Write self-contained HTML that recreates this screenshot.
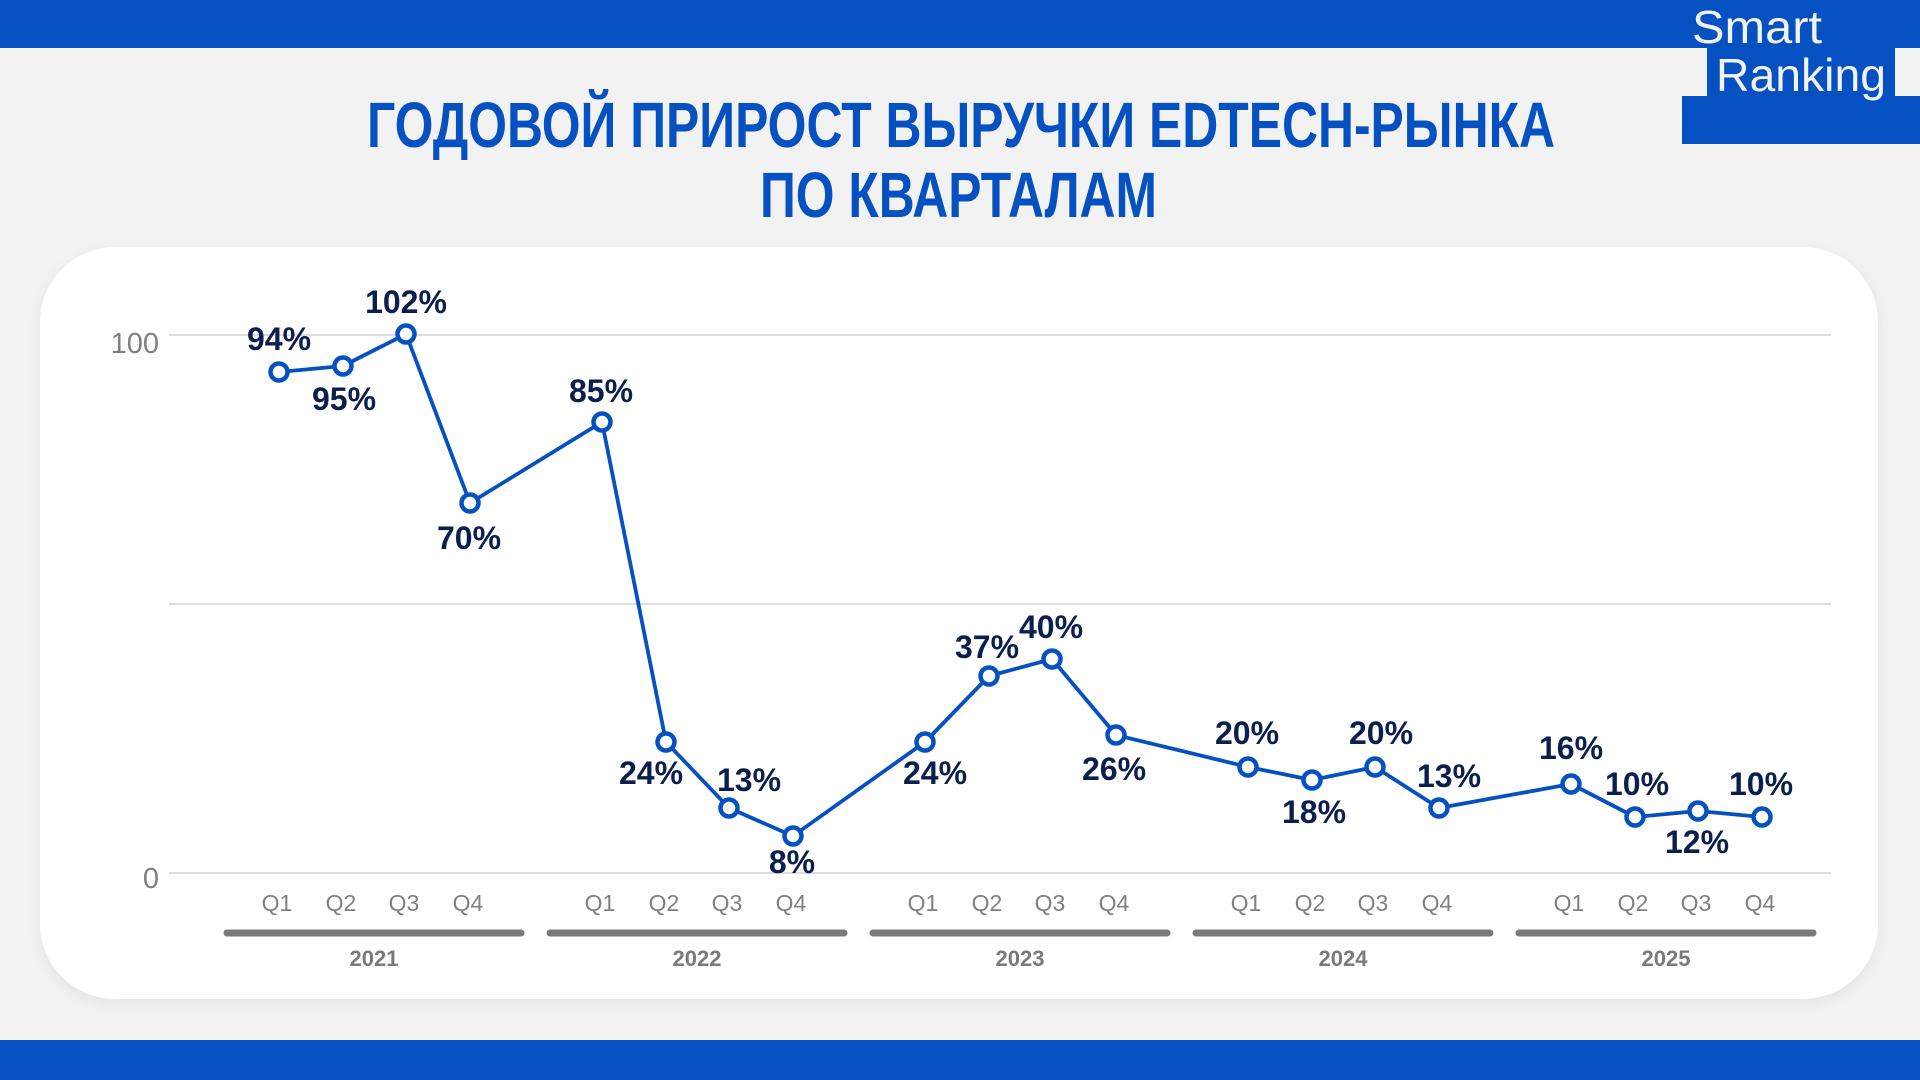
<!DOCTYPE html>
<html><head><meta charset="utf-8"><style>
html,body{margin:0;padding:0;background:#f2f2f2;}
svg{display:block}
</style></head><body>
<svg width="1920" height="1080" viewBox="0 0 1920 1080" xmlns="http://www.w3.org/2000/svg">
<defs><filter id="sh" x="-5%" y="-5%" width="110%" height="115%"><feDropShadow dx="0" dy="4" stdDeviation="6" flood-color="#000" flood-opacity="0.06"/></filter></defs>
<rect width="1920" height="1080" fill="#f2f2f2"/>
<rect x="0" y="0" width="1920" height="48" fill="#0551c1"/>
<rect x="0" y="1040" width="1920" height="40" fill="#0551c1"/>
<!-- logo -->
<rect x="1600" y="0" width="232" height="48" fill="#0551c1"/>
<rect x="1707" y="46" width="188" height="52" fill="#0551c1"/>
<rect x="1682" y="96" width="238" height="48" fill="#0551c1"/>
<text x="1692" y="43" font-family="Liberation Sans, sans-serif" font-size="46" fill="#f2f2f2" textLength="130" lengthAdjust="spacingAndGlyphs">Smart</text>
<text x="1716" y="91" font-family="Liberation Sans, sans-serif" font-size="46" fill="#f2f2f2" textLength="170" lengthAdjust="spacingAndGlyphs">Ranking</text>
<!-- title -->
<g font-family="Liberation Sans Narrow, Liberation Sans, sans-serif" font-weight="bold" font-size="64" fill="#0551c1">
<text x="367" y="147" textLength="1188" lengthAdjust="spacingAndGlyphs">ГОДОВОЙ ПРИРОСТ ВЫРУЧКИ EDTECH-РЫНКА</text>
<text x="760" y="217" textLength="397" lengthAdjust="spacingAndGlyphs">ПО КВАРТАЛАМ</text>
</g>
<!-- card -->
<rect x="40" y="247" width="1838" height="752" rx="75" fill="#fff" filter="url(#sh)"/>
<!-- grid -->
<g stroke="#d4d4d4" stroke-width="1.5">
<line x1="169" y1="335" x2="1831" y2="335"/>
<line x1="169" y1="604" x2="1831" y2="604"/>
<line x1="169" y1="873" x2="1831" y2="873"/>
</g>
<g font-family="Liberation Sans, sans-serif" font-size="29" fill="#808080" text-anchor="end">
<text x="159" y="353">100</text>
<text x="159" y="888">0</text>
</g>
<!-- quarter labels -->
<g font-family="Liberation Sans, sans-serif" font-size="23" fill="#808080" text-anchor="middle">
<text x="277" y="911">Q1</text><text x="341" y="911">Q2</text><text x="404" y="911">Q3</text><text x="468" y="911">Q4</text>
<text x="600" y="911">Q1</text><text x="664" y="911">Q2</text><text x="727" y="911">Q3</text><text x="791" y="911">Q4</text>
<text x="923" y="911">Q1</text><text x="987" y="911">Q2</text><text x="1050" y="911">Q3</text><text x="1114" y="911">Q4</text>
<text x="1246" y="911">Q1</text><text x="1310" y="911">Q2</text><text x="1373" y="911">Q3</text><text x="1437" y="911">Q4</text>
<text x="1569" y="911">Q1</text><text x="1633" y="911">Q2</text><text x="1696" y="911">Q3</text><text x="1760" y="911">Q4</text>
</g>
<g stroke="#7a7a7a" stroke-width="7" stroke-linecap="round">
<line x1="227" y1="933" x2="521" y2="933"/>
<line x1="550" y1="933" x2="844" y2="933"/>
<line x1="873" y1="933" x2="1167" y2="933"/>
<line x1="1196" y1="933" x2="1490" y2="933"/>
<line x1="1519" y1="933" x2="1813" y2="933"/>
</g>
<g font-family="Liberation Sans, sans-serif" font-size="22" font-weight="bold" fill="#7a7a7a" text-anchor="middle">
<text x="374" y="966">2021</text><text x="697" y="966">2022</text><text x="1020" y="966">2023</text><text x="1343" y="966">2024</text><text x="1666" y="966">2025</text>
</g>
<!-- series -->
<polyline fill="none" stroke="#0551c1" stroke-width="3.8" stroke-linejoin="round" points="279,372 343,366 406,334 470,503 602,422 666,742 729,808 793,836 925,742 989,676 1052,659 1116,735 1248,767 1312,780 1375,767 1439,808 1571,784 1635,817 1698,811 1762,817"/>
<g fill="#fff" stroke="#0551c1" stroke-width="4.5">
<circle cx="279" cy="372" r="8.5"/><circle cx="343" cy="366" r="8.5"/><circle cx="406" cy="334" r="8.5"/><circle cx="470" cy="503" r="8.5"/>
<circle cx="602" cy="422" r="8.5"/><circle cx="666" cy="742" r="8.5"/><circle cx="729" cy="808" r="8.5"/><circle cx="793" cy="836" r="8.5"/>
<circle cx="925" cy="742" r="8.5"/><circle cx="989" cy="676" r="8.5"/><circle cx="1052" cy="659" r="8.5"/><circle cx="1116" cy="735" r="8.5"/>
<circle cx="1248" cy="767" r="8.5"/><circle cx="1312" cy="780" r="8.5"/><circle cx="1375" cy="767" r="8.5"/><circle cx="1439" cy="808" r="8.5"/>
<circle cx="1571" cy="784" r="8.5"/><circle cx="1635" cy="817" r="8.5"/><circle cx="1698" cy="811" r="8.5"/><circle cx="1762" cy="817" r="8.5"/>
</g>
<g font-family="Liberation Sans, sans-serif" font-size="32" font-weight="bold" fill="#0b1f4f" text-anchor="middle">
<text x="279" y="350">94%</text>
<text x="344" y="410">95%</text>
<text x="406" y="313">102%</text>
<text x="469" y="549">70%</text>
<text x="601" y="402">85%</text>
<text x="651" y="784">24%</text>
<text x="749" y="791">13%</text>
<text x="792" y="873">8%</text>
<text x="935" y="784">24%</text>
<text x="987" y="658">37%</text>
<text x="1051" y="638">40%</text>
<text x="1114" y="780">26%</text>
<text x="1247" y="744">20%</text>
<text x="1314" y="823">18%</text>
<text x="1381" y="744">20%</text>
<text x="1449" y="787">13%</text>
<text x="1571" y="759">16%</text>
<text x="1637" y="795">10%</text>
<text x="1697" y="853">12%</text>
<text x="1761" y="795">10%</text>
</g>
</svg>
</body></html>
